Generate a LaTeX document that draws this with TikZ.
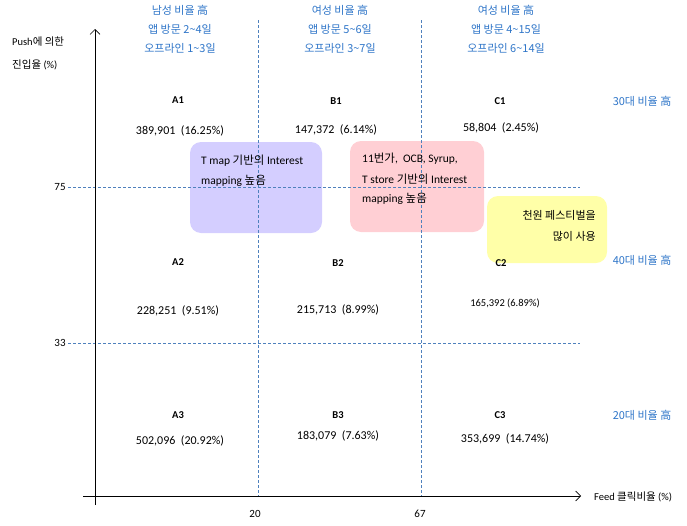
\documentclass[tikz,border=0pt]{standalone}
\usepackage{fontspec}
\setmainfont{Carlito}
\newfontfamily\krfont{Noto Sans CJK KR}
\newcommand\kr[1]{{\krfont #1}}
\usetikzlibrary{arrows.meta}
\definecolor{hblue}{RGB}{46,117,200}
\definecolor{dblue}{RGB}{79,129,189}
\definecolor{boxpurple}{RGB}{212,206,255}
\definecolor{boxpink}{RGB}{255,207,212}
\definecolor{boxyellow}{RGB}{255,255,168}
\begin{document}
\begin{tikzpicture}[x=1pt,y=-1pt,
  hdr/.style={text=hblue, font=\krfont\fontsize{11}{19}\selectfont, align=center, inner sep=0pt},
  side/.style={text=hblue, font=\krfont\fontsize{11}{12}\selectfont, inner sep=0pt},
  cell/.style={font=\bfseries\fontsize{10.5}{11}\selectfont, inner sep=0pt},
  val/.style={font=\fontsize{12}{12}\selectfont, inner sep=0pt},
  tick/.style={font=\fontsize{11}{12}\selectfont, inner sep=0pt},
  axlabel/.style={font=\fontsize{10.5}{23}\selectfont, align=left, inner sep=0pt},
  boxtext/.style={font=\fontsize{11.5}{20.5}\selectfont, inner sep=0pt},
  grid/.style={dblue, line width=0.6pt, dash pattern=on 3pt off 2pt},
  axis/.style={black, line width=0.6pt, -{Straight Barb[length=5pt,width=10pt,line width=0.6pt]}},
  zone/.style={rounded corners=11pt, draw=none}
]
\useasboundingbox (0,0) rectangle (687,525);

% coloured zones
\fill[zone, fill=boxpurple] (190,142) rectangle (322,233);
\fill[zone, fill=boxpink] (350,141) rectangle (484,232);
\fill[zone, fill=boxyellow] (487,196) rectangle (607,263);

% grid coordinates
\coordinate (v1t) at (258,20);  \coordinate (v1b) at (258,496);
\coordinate (v2t) at (421,20);  \coordinate (v2b) at (421,496);
\coordinate (h1l) at (68,187);  \coordinate (h1r) at (580,187);
\coordinate (h2l) at (68,343);  \coordinate (h2r) at (580,343);
\draw[grid] (v1t) -- (v1b);
\draw[grid] (v2t) -- (v2b);
\draw[grid] (h1l) -- (h1r);
\draw[grid] (h2l) -- (h2r);

% axes
\coordinate (yb) at (95,505); \coordinate (yt) at (95,29);
\coordinate (xl) at (83,496); \coordinate (xr) at (581,496);
\draw[axis] (yb) -- (yt);
\draw[axis] (xl) -- (xr);

% axis labels
\node[axlabel, anchor=north west] (ylab) at (12,37) {Push\kr{에 의한}\\\kr{진입율} (\%)};
\node[axlabel, anchor=west] (xlab) at (594,497) {Feed \kr{클릭비율} (\%)};
\node[tick] (t75) at (60,187) {75};
\node[tick] (t33) at (60,343) {33};
\node[tick] (t20) at (255,514) {20};
\node[tick] (t67) at (420,514) {67};

% column headers
\node[hdr, anchor=north] (hA) at (180,5) {남성 비율 高\\앱 방문 2\textasciitilde4일\\오프라인 1\textasciitilde3일};
\node[hdr, anchor=north] (hB) at (340,5) {여성 비율 高\\앱 방문 5\textasciitilde6일\\오프라인 3\textasciitilde7일};
\node[hdr, anchor=north] (hC) at (506,5) {여성 비율 高\\앱 방문 4\textasciitilde15일\\오프라인 6\textasciitilde14일};

% row labels
\node[side] (r1) at (642,101) {30대 비율 高};
\node[side] (r2) at (642,260) {40대 비율 高};
\node[side] (r3) at (642,415) {20대 비율 高};

% cells
\node[cell] (A1) at (178,100) {A1};
\node[val]  (A1v) at (180,131) {389,901 \ (16.25\%)};
\node[cell] (B1) at (336,101) {B1};
\node[val]  (B1v) at (336,130) {147,372 \ (6.14\%)};
\node[cell] (C1) at (500,101) {C1};
\node[val]  (C1v) at (501,128) {58,804 \ (2.45\%)};

\node[cell] (A2) at (178,262) {A2};
\node[val]  (A2v) at (178,311) {228,251 \ (9.51\%)};
\node[cell] (B2) at (338,263) {B2};
\node[val]  (B2v) at (338,310) {215,713 \ (8.99\%)};
\node[cell] (C2) at (501,263) {C2};
\node[val, font=\fontsize{10.5}{11}\selectfont] (C2v) at (505,303) {165,392 (6.89\%)};

\node[cell] (A3) at (178,415) {A3};
\node[val]  (A3v) at (180,441) {502,096 \ (20.92\%)};
\node[cell] (B3) at (338,415) {B3};
\node[val]  (B3v) at (338,436) {183,079 \ (7.63\%)};
\node[cell] (C3) at (500,415) {C3};
\node[val]  (C3v) at (505,439) {353,699 \ (14.74\%)};

% zone texts
\node[boxtext, anchor=west] (p1) at (201,161) {T map \kr{기반의} Interest};
\node[boxtext, anchor=west] (p2) at (201,181) {mapping \kr{높음}};
\node[boxtext, anchor=west] (k1) at (362,159) {11\kr{번가},\ \ OCB, Syrup,};
\node[boxtext, anchor=west] (k2) at (362,179) {T store \kr{기반의} Interest};
\node[boxtext, anchor=west] (k3) at (362,199) {mapping \kr{높음}};
\node[boxtext, anchor=east, font=\krfont\fontsize{11}{12}\selectfont] (y1) at (596,215) {천원 페스티벌을};
\node[boxtext, anchor=east, font=\krfont\fontsize{11}{12}\selectfont] (y2) at (596,236) {많이 사용};
\end{tikzpicture}
\end{document}
